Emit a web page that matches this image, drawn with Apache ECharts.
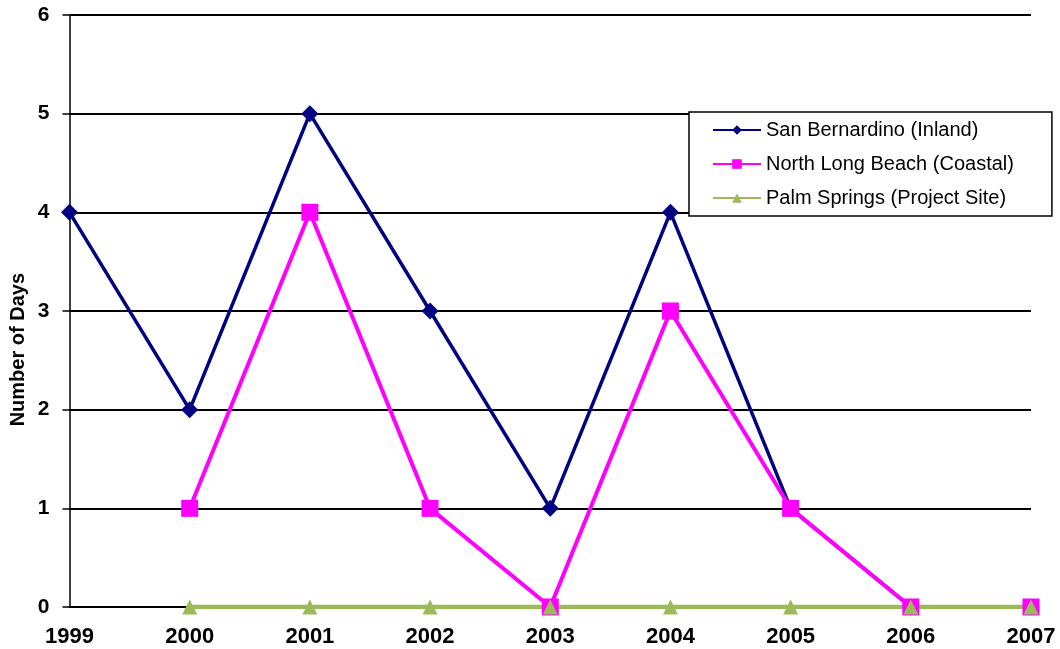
<!DOCTYPE html>
<html><head><meta charset="utf-8">
<script src="https://cdn.jsdelivr.net/npm/echarts@6/dist/echarts.min.js"></script>
<style>html,body{margin:0;padding:0;background:#fff}#c{width:1060px;height:649px}</style>
</head><body><div id="c"></div>
<script>
const years = ['1999','2000','2001','2002','2003','2004','2005','2006','2007'];
const sanBernardino = [4, 2, 5, 3, 1, 4, 1, 0, 0];
const northLongBeach = [null, 1, 4, 1, 0, 3, 1, 0, 0];
const palmSprings = [null, 0, 0, 0, 0, 0, 0, 0, 0];
const yTicks = {min: 0, max: 6, interval: 1};

const chart = echarts.init(document.getElementById('c'));
chart.setOption({
  animation: false,
  backgroundColor: '#fff',
  grid: {left: 69.5, right: 29, top: 15, bottom: 42},
  legend: {
    orient: 'vertical', left: 689, top: 112,
    padding: [8, 38, 8, 23], itemGap: 14, itemWidth: 48, itemHeight: 12,
    borderColor: '#000', borderWidth: 1.5, backgroundColor: '#fff',
    textStyle: {fontFamily: 'Liberation Sans, Arial', fontSize: 20, color: '#000'},
    data: ['San Bernardino (Inland)', 'North Long Beach (Coastal)', 'Palm Springs (Project Site)']
  },
  graphic: [{
    type: 'text', left: 8, top: 273, rotation: Math.PI / 2,
    style: {text: 'Number of Days', font: 'bold 20px "Liberation Sans", Arial', fill: '#000'}
  }],
  xAxis: {
    type: 'category', data: years, boundaryGap: false,
    axisLine: {lineStyle: {color: '#000', width: 2}},
    axisTick: {show: false},
    axisLabel: {margin: 19, color: '#000', fontSize: 22, fontWeight: 'bold', fontFamily: 'Liberation Sans, Arial'}
  },
  yAxis: {
    type: 'value', min: yTicks.min, max: yTicks.max, interval: yTicks.interval,
    axisLine: {show: true, lineStyle: {color: '#000', width: 1.5}},
    axisTick: {show: true, length: 7, lineStyle: {color: '#000', width: 1.5}},
    splitLine: {lineStyle: {color: '#000', width: 2}},
    axisLabel: {margin: 20, color: '#000', fontSize: 21, fontWeight: 'bold', fontFamily: 'Liberation Sans, Arial'}
  },
  series: [
    {name: 'San Bernardino (Inland)', type: 'line', data: sanBernardino,
     symbol: 'diamond', symbolSize: 17, color: '#000080',
     lineStyle: {color: '#000080', width: 3.5}, itemStyle: {color: '#000080'}},
    {name: 'North Long Beach (Coastal)', type: 'line', data: northLongBeach,
     symbol: 'rect', symbolSize: 17, color: '#ff00ff',
     lineStyle: {color: '#ff00ff', width: 4}, itemStyle: {color: '#ff00ff'}},
    {name: 'Palm Springs (Project Site)', type: 'line', data: palmSprings,
     symbol: 'triangle', symbolSize: 15, color: '#9bbb59',
     lineStyle: {color: '#9bbb59', width: 4.5}, itemStyle: {color: '#9bbb59'}}
  ]
});
</script></body></html>
